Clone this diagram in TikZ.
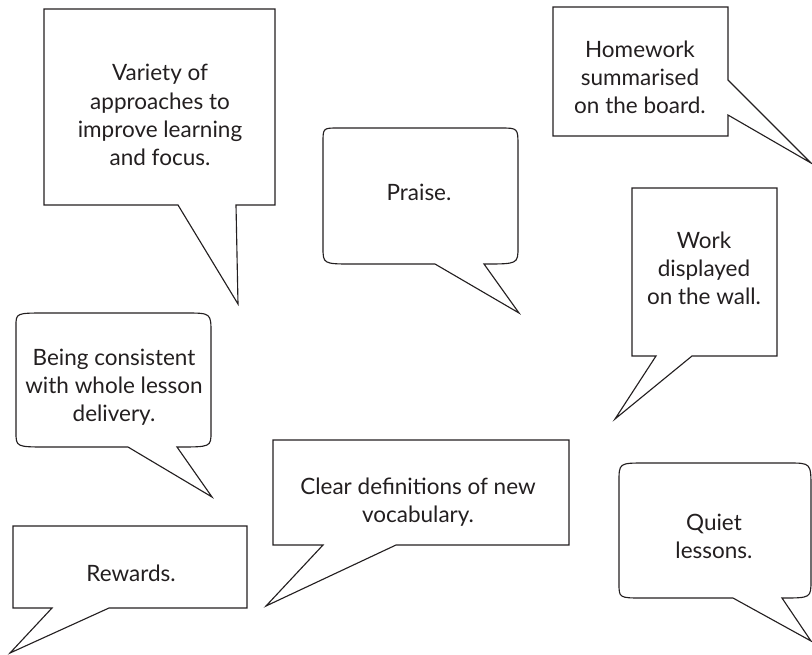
\documentclass[tikz,border=0pt]{standalone}
\usepackage{fontspec}
\setmainfont{Lato}
\usepackage{tikz}
\definecolor{ink}{HTML}{231F20}

\begin{document}
\begin{tikzpicture}[x=0.025cm, y=-0.025cm, line width=0.8pt,
		bubble/.style={draw=ink, line join=miter},
		says/.style={align=center, text=ink, font=\fontsize{16}{20}\selectfont}]
	\useasboundingbox (0,0) rectangle (812,654);

	% square bubbles
	\draw[bubble] (44,9) -- (275,9) -- (275,205) -- (236,205) -- (238,304) -- (178,205) -- (44,205) -- cycle;
	\draw[bubble] (553,7) -- (728,7) -- (728,80) -- (811,163) -- (728,115) -- (728,136) -- (553,136) -- cycle;
	\draw[bubble] (632,188) -- (777,188) -- (777,356) -- (692,356) -- (615,419) -- (656,356) -- (632,356) -- cycle;
	\draw[bubble] (13,526) -- (247,526) -- (247,608) -- (109,608) -- (10,653) -- (52,608) -- (13,608) -- cycle;
	\draw[bubble] (273,440) -- (569,440) -- (569,545) -- (396,545) -- (266,606) -- (323,545) -- (273,545) -- cycle;

	% round bubbles
	\draw[bubble] (323,143) .. controls (323,128) .. (338,128) -- (500,128) .. controls (518,128) .. (518,146)
		-- (518,247) .. controls (518,264) .. (484,264) -- (519,313) -- (435,264)
		-- (353,264) .. controls (323,264) .. (323,247) -- cycle;
	\draw[bubble] (16,326) .. controls (16,313) .. (46,313) -- (185,313) .. controls (211,313) .. (211,333)
		-- (211,432) .. controls (211,447) .. (177,447) -- (212,497) -- (128,447)
		-- (48,447) .. controls (16,447) .. (16,432) -- cycle;
	\draw[bubble] (619,482) .. controls (619,463) .. (645,463) -- (788,463) .. controls (811,463) .. (811,488)
		-- (811,580) .. controls (811,598) .. (782,598) -- (811,641) -- (733,598)
		-- (643,598) .. controls (619,598) .. (619,583) -- cycle;

	\node[says] (variety) at (160,115) {Variety of\\approaches to\\improve learning\\and focus.};
	\node[says] (praise) at (419,192) {Praise.};
	\node[says] (homework) at (640,77) {Homework\\summarised\\on the board.};
	\node[says] (work) at (704,268) {Work\\displayed\\on the wall.};
	\node[says] (consistent) at (114,387) {Being consistent\\with whole lesson\\delivery.};
	\node[says] (rewards) at (131,573) {Rewards.};
	\node[says] (clear) at (418,502) {Clear definitions of new\\vocabulary.};
	\node[says] (quiet) at (714,536) {Quiet\\lessons.};
\end{tikzpicture}
\end{document}
